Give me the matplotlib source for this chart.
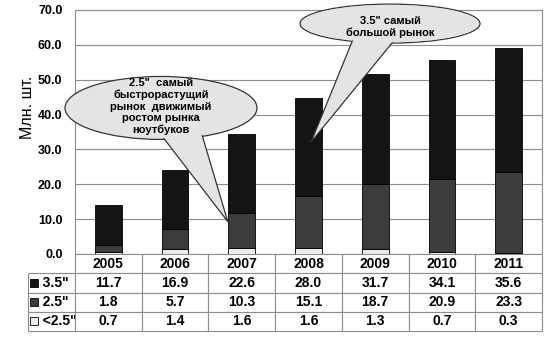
import matplotlib
matplotlib.use('Agg')
import matplotlib.pyplot as plt
import numpy as np
from matplotlib.patches import Ellipse, Polygon, Rectangle
from matplotlib.table import Table

plt.rcParams['font.family'] = ['Liberation Sans', 'DejaVu Sans']

years = ['2005', '2006', '2007', '2008', '2009', '2010', '2011']
s35 = [11.7, 16.9, 22.6, 28.0, 31.7, 34.1, 35.6]
s25 = [1.8, 5.7, 10.3, 15.1, 18.7, 20.9, 23.3]
slt25 = [0.7, 1.4, 1.6, 1.6, 1.3, 0.7, 0.3]
series_names = ['3.5"', '2.5"', '<2.5"']
series_colors = ['#141414', '#3c3c3c', '#ececec']
yticks = [0, 10, 20, 30, 40, 50, 60, 70]
note1 = '2.5"  самый\nбыстрорастущий\nрынок  движимый\nростом рынка\nноутбуков'
note2 = '3.5" самый\nбольшой рынок'

fig = plt.figure(figsize=(5.5, 3.38), dpi=100)
ax = fig.add_axes([75/550, 1-254/338, 467/550, 244/338])

x = np.arange(len(years))
b1 = np.array(slt25)
b2 = b1 + np.array(s25)
ax.bar(x, slt25, width=0.4, color=series_colors[2], edgecolor='black', linewidth=0.6, zorder=3)
ax.bar(x, s25, width=0.4, bottom=b1, color=series_colors[1], edgecolor='black', linewidth=0.6, zorder=3)
ax.bar(x, s35, width=0.4, bottom=b2, color=series_colors[0], edgecolor='black', linewidth=0.6, zorder=3)

ax.set_xlim(-0.5, 6.5)
ax.set_ylim(0, 70)
ax.set_yticks(yticks)
ax.set_yticklabels(['%.1f' % v for v in yticks], fontsize=9, fontweight='bold')
ax.tick_params(axis='y', length=0, pad=9)
ax.set_xticks([])
ax.grid(axis='y', color='#8c8c8c', linewidth=0.8, zorder=0)
for s in ax.spines.values():
    s.set_color('#8c8c8c')
    s.set_linewidth(0.8)
ax.spines['bottom'].set_visible(False)

fig.text(28/550, 1-107/338, 'Млн. шт.', rotation=90, fontsize=11.5,
         ha='center', va='center')

# table below the chart (row-label column hangs left of the bbox)
tab_h = 77/244
lab_w = 47/467
row_h = tab_h / 4
col_w = 1 / len(years)
tbl = Table(ax, bbox=[0, -tab_h, 1, tab_h])
tbl.auto_set_font_size(False)
for j, yr in enumerate(years):
    tbl.add_cell(0, j, col_w, row_h, text=yr, loc='center')
for i, (name, vals) in enumerate(zip(series_names, (s35, s25, slt25))):
    tbl.add_cell(i + 1, -1, lab_w, row_h, text='   ' + name, loc='left')
    for j, v in enumerate(vals):
        tbl.add_cell(i + 1, j, col_w, row_h, text='%.1f' % v, loc='center')
tbl.set_fontsize(10)
for cell in tbl.get_celld().values():
    cell.set_edgecolor('#8c8c8c')
    cell.set_linewidth(0.8)
    cell.PAD = 0.06
    cell.get_text().set_fontweight('bold')
    cell.get_text().set_fontsize(10)
ax.add_table(tbl)

for i, col in enumerate(series_colors):
    yc = -row_h * (i + 1.5)
    ax.add_patch(Rectangle((-0.096, yc - 0.016), 0.017, 0.032,
                           transform=ax.transAxes, facecolor=col,
                           edgecolor='black', linewidth=0.6, clip_on=False, zorder=5))


def callout(cx, cy, w, h, tail, text, tx, ty):
    ax.add_patch(Ellipse((cx, cy), w, h, facecolor='#e4e4e4', edgecolor='#333333',
                         linewidth=0.9, zorder=6, clip_on=False))
    ax.add_patch(Polygon(tail, closed=True, facecolor='#e4e4e4', edgecolor='#333333',
                         linewidth=0.9, zorder=7, clip_on=False))
    ax.add_patch(Ellipse((cx, cy), w * 0.985, h * 0.96, facecolor='#e4e4e4',
                         edgecolor='none', zorder=8, clip_on=False))
    ax.text(tx, ty, text, ha='center', va='center', fontsize=8, fontweight='bold',
            linespacing=1.2, zorder=9)


callout(0.789, 41.9, 2.878, 18.07,
        [(0.714, 36.1), (1.374, 36.1), (1.79, 9.3)], note1, 0.789, 42.3)
callout(4.222, 66.1, 2.698, 11.19,
        [(3.712, 63.7), (4.387, 63.7), (3.038, 32.1)], note2, 4.222, 65.2)

fig.savefig('out.png', dpi=100)
